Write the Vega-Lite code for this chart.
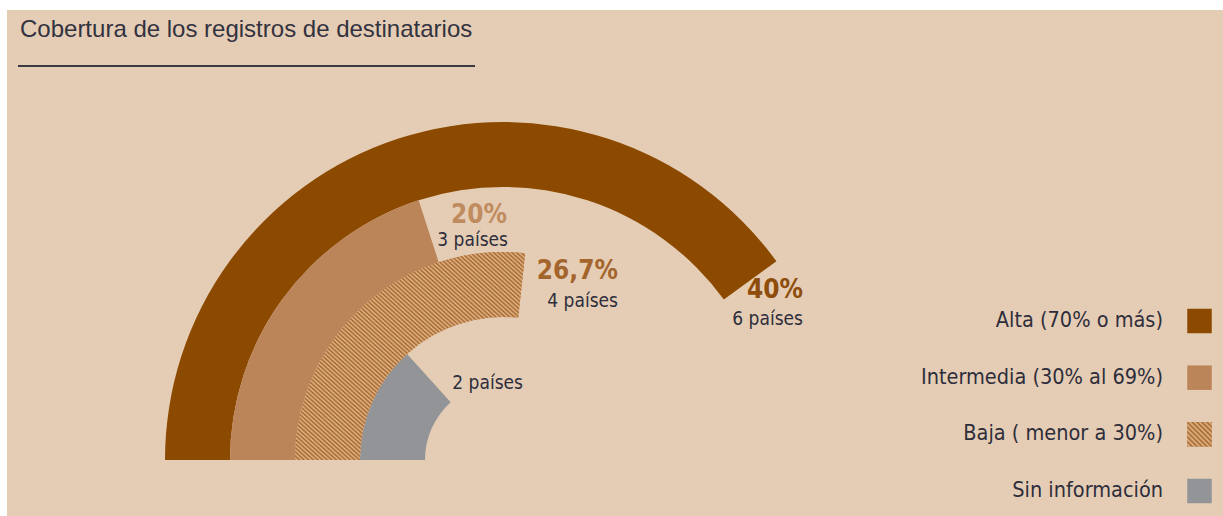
{
  "$schema": "https://vega.github.io/schema/vega-lite/v6.json",
  "width": 1223,
  "height": 516,
  "autosize": {"type": "fit", "contains": "padding"},
  "padding": {"left": 7, "top": 10, "right": 0, "bottom": 0},
  "background": "#FFFFFF",
  "config": {"view": {"fill": "#E5CDB5", "stroke": null}},
  "datasets": {
    "cobertura": [
      {"categoria": "Alta", "etiqueta": "Alta (70% o más)", "porcentaje": 40, "paises": 6, "pct_texto": "40%", "paises_texto": "6 países"},
      {"categoria": "Intermedia", "etiqueta": "Intermedia (30% al 69%)", "porcentaje": 20, "paises": 3, "pct_texto": "20%", "paises_texto": "3 países"},
      {"categoria": "Baja", "etiqueta": "Baja ( menor a 30%)", "porcentaje": 26.7, "paises": 4, "pct_texto": "26,7%", "paises_texto": "4 países"},
      {"categoria": "Sin información", "etiqueta": "Sin información", "porcentaje": 13.3, "paises": 2, "pct_texto": "", "paises_texto": "2 países"}
    ],
    "titulo": [{"texto": "Cobertura de los registros de destinatarios"}]
  },
  "resolve": {"scale": {"x": "independent", "y": "independent"}},
  "layer": [
    {
      "data": {"name": "cobertura"},
      "encoding": {
        "x": {"datum": 496, "type": "quantitative", "scale": {"domain": [0, 1216], "nice": false, "zero": false}, "axis": null},
        "y": {"datum": 450, "type": "quantitative", "scale": {"domain": [0, 506], "reverse": true, "nice": false, "zero": false}, "axis": null},
        "theta": {"field": "porcentaje", "type": "quantitative", "stack": null, "scale": {"domain": [0, 100], "range": [-1.5708, 4.7124]}},
        "radius": {"field": "categoria", "type": "nominal", "scale": {"type": "point", "domain": ["Alta", "Intermedia", "Baja", "Sin información"], "range": [338, 143], "padding": 0}}
      },
      "layer": [
        {
          "mark": {"type": "arc", "radius2Offset": -65},
          "encoding": {
            "theta2": {"datum": 0},
            "radius2": {"field": "categoria"},
            "color": {"field": "categoria", "type": "nominal", "legend": null, "scale": {"domain": ["Alta", "Intermedia", "Baja", "Sin información"], "range": ["#8C4A00", "#BC8459", "#C38E5B", "#939497"]}}
          }
        },
        {
          "transform": [{"filter": "datum.categoria === 'Baja'"}],
          "mark": {"type": "arc", "radius2Offset": -65, "fill": {"gradient": "linear", "x1": 0, "y1": 1, "x2": 1, "y2": 0, "stops": [
            {"offset": 0, "color": "#A5652B"}, {"offset": 0.005, "color": "#E1B78B"}, {"offset": 0.01, "color": "#A5652B"}, {"offset": 0.015, "color": "#E1B78B"}, {"offset": 0.02, "color": "#A5652B"}, {"offset": 0.025, "color": "#E1B78B"}, {"offset": 0.03, "color": "#A5652B"}, {"offset": 0.035, "color": "#E1B78B"}, {"offset": 0.04, "color": "#A5652B"}, {"offset": 0.045, "color": "#E1B78B"},
            {"offset": 0.05, "color": "#A5652B"}, {"offset": 0.055, "color": "#E1B78B"}, {"offset": 0.06, "color": "#A5652B"}, {"offset": 0.065, "color": "#E1B78B"}, {"offset": 0.07, "color": "#A5652B"}, {"offset": 0.075, "color": "#E1B78B"}, {"offset": 0.08, "color": "#A5652B"}, {"offset": 0.085, "color": "#E1B78B"}, {"offset": 0.09, "color": "#A5652B"}, {"offset": 0.095, "color": "#E1B78B"},
            {"offset": 0.1, "color": "#A5652B"}, {"offset": 0.105, "color": "#E1B78B"}, {"offset": 0.11, "color": "#A5652B"}, {"offset": 0.115, "color": "#E1B78B"}, {"offset": 0.12, "color": "#A5652B"}, {"offset": 0.125, "color": "#E1B78B"}, {"offset": 0.13, "color": "#A5652B"}, {"offset": 0.135, "color": "#E1B78B"}, {"offset": 0.14, "color": "#A5652B"}, {"offset": 0.145, "color": "#E1B78B"},
            {"offset": 0.15, "color": "#A5652B"}, {"offset": 0.155, "color": "#E1B78B"}, {"offset": 0.16, "color": "#A5652B"}, {"offset": 0.165, "color": "#E1B78B"}, {"offset": 0.17, "color": "#A5652B"}, {"offset": 0.175, "color": "#E1B78B"}, {"offset": 0.18, "color": "#A5652B"}, {"offset": 0.185, "color": "#E1B78B"}, {"offset": 0.19, "color": "#A5652B"}, {"offset": 0.195, "color": "#E1B78B"},
            {"offset": 0.2, "color": "#A5652B"}, {"offset": 0.205, "color": "#E1B78B"}, {"offset": 0.21, "color": "#A5652B"}, {"offset": 0.215, "color": "#E1B78B"}, {"offset": 0.22, "color": "#A5652B"}, {"offset": 0.225, "color": "#E1B78B"}, {"offset": 0.23, "color": "#A5652B"}, {"offset": 0.235, "color": "#E1B78B"}, {"offset": 0.24, "color": "#A5652B"}, {"offset": 0.245, "color": "#E1B78B"},
            {"offset": 0.25, "color": "#A5652B"}, {"offset": 0.255, "color": "#E1B78B"}, {"offset": 0.26, "color": "#A5652B"}, {"offset": 0.265, "color": "#E1B78B"}, {"offset": 0.27, "color": "#A5652B"}, {"offset": 0.275, "color": "#E1B78B"}, {"offset": 0.28, "color": "#A5652B"}, {"offset": 0.285, "color": "#E1B78B"}, {"offset": 0.29, "color": "#A5652B"}, {"offset": 0.295, "color": "#E1B78B"},
            {"offset": 0.3, "color": "#A5652B"}, {"offset": 0.305, "color": "#E1B78B"}, {"offset": 0.31, "color": "#A5652B"}, {"offset": 0.315, "color": "#E1B78B"}, {"offset": 0.32, "color": "#A5652B"}, {"offset": 0.325, "color": "#E1B78B"}, {"offset": 0.33, "color": "#A5652B"}, {"offset": 0.335, "color": "#E1B78B"}, {"offset": 0.34, "color": "#A5652B"}, {"offset": 0.345, "color": "#E1B78B"},
            {"offset": 0.35, "color": "#A5652B"}, {"offset": 0.355, "color": "#E1B78B"}, {"offset": 0.36, "color": "#A5652B"}, {"offset": 0.365, "color": "#E1B78B"}, {"offset": 0.37, "color": "#A5652B"}, {"offset": 0.375, "color": "#E1B78B"}, {"offset": 0.38, "color": "#A5652B"}, {"offset": 0.385, "color": "#E1B78B"}, {"offset": 0.39, "color": "#A5652B"}, {"offset": 0.395, "color": "#E1B78B"},
            {"offset": 0.4, "color": "#A5652B"}, {"offset": 0.405, "color": "#E1B78B"}, {"offset": 0.41, "color": "#A5652B"}, {"offset": 0.415, "color": "#E1B78B"}, {"offset": 0.42, "color": "#A5652B"}, {"offset": 0.425, "color": "#E1B78B"}, {"offset": 0.43, "color": "#A5652B"}, {"offset": 0.435, "color": "#E1B78B"}, {"offset": 0.44, "color": "#A5652B"}, {"offset": 0.445, "color": "#E1B78B"},
            {"offset": 0.45, "color": "#A5652B"}, {"offset": 0.455, "color": "#E1B78B"}, {"offset": 0.46, "color": "#A5652B"}, {"offset": 0.465, "color": "#E1B78B"}, {"offset": 0.47, "color": "#A5652B"}, {"offset": 0.475, "color": "#E1B78B"}, {"offset": 0.48, "color": "#A5652B"}, {"offset": 0.485, "color": "#E1B78B"}, {"offset": 0.49, "color": "#A5652B"}, {"offset": 0.495, "color": "#E1B78B"},
            {"offset": 0.5, "color": "#A5652B"}, {"offset": 0.505, "color": "#E1B78B"}, {"offset": 0.51, "color": "#A5652B"}, {"offset": 0.515, "color": "#E1B78B"}, {"offset": 0.52, "color": "#A5652B"}, {"offset": 0.525, "color": "#E1B78B"}, {"offset": 0.53, "color": "#A5652B"}, {"offset": 0.535, "color": "#E1B78B"}, {"offset": 0.54, "color": "#A5652B"}, {"offset": 0.545, "color": "#E1B78B"},
            {"offset": 0.55, "color": "#A5652B"}, {"offset": 0.555, "color": "#E1B78B"}, {"offset": 0.56, "color": "#A5652B"}, {"offset": 0.565, "color": "#E1B78B"}, {"offset": 0.57, "color": "#A5652B"}, {"offset": 0.575, "color": "#E1B78B"}, {"offset": 0.58, "color": "#A5652B"}, {"offset": 0.585, "color": "#E1B78B"}, {"offset": 0.59, "color": "#A5652B"}, {"offset": 0.595, "color": "#E1B78B"},
            {"offset": 0.6, "color": "#A5652B"}, {"offset": 0.605, "color": "#E1B78B"}, {"offset": 0.61, "color": "#A5652B"}, {"offset": 0.615, "color": "#E1B78B"}, {"offset": 0.62, "color": "#A5652B"}, {"offset": 0.625, "color": "#E1B78B"}, {"offset": 0.63, "color": "#A5652B"}, {"offset": 0.635, "color": "#E1B78B"}, {"offset": 0.64, "color": "#A5652B"}, {"offset": 0.645, "color": "#E1B78B"},
            {"offset": 0.65, "color": "#A5652B"}, {"offset": 0.655, "color": "#E1B78B"}, {"offset": 0.66, "color": "#A5652B"}, {"offset": 0.665, "color": "#E1B78B"}, {"offset": 0.67, "color": "#A5652B"}, {"offset": 0.675, "color": "#E1B78B"}, {"offset": 0.68, "color": "#A5652B"}, {"offset": 0.685, "color": "#E1B78B"}, {"offset": 0.69, "color": "#A5652B"}, {"offset": 0.695, "color": "#E1B78B"},
            {"offset": 0.7, "color": "#A5652B"}, {"offset": 0.705, "color": "#E1B78B"}, {"offset": 0.71, "color": "#A5652B"}, {"offset": 0.715, "color": "#E1B78B"}, {"offset": 0.72, "color": "#A5652B"}, {"offset": 0.725, "color": "#E1B78B"}, {"offset": 0.73, "color": "#A5652B"}, {"offset": 0.735, "color": "#E1B78B"}, {"offset": 0.74, "color": "#A5652B"}, {"offset": 0.745, "color": "#E1B78B"},
            {"offset": 0.75, "color": "#A5652B"}, {"offset": 0.755, "color": "#E1B78B"}, {"offset": 0.76, "color": "#A5652B"}, {"offset": 0.765, "color": "#E1B78B"}, {"offset": 0.77, "color": "#A5652B"}, {"offset": 0.775, "color": "#E1B78B"}, {"offset": 0.78, "color": "#A5652B"}, {"offset": 0.785, "color": "#E1B78B"}, {"offset": 0.79, "color": "#A5652B"}, {"offset": 0.795, "color": "#E1B78B"},
            {"offset": 0.8, "color": "#A5652B"}, {"offset": 0.805, "color": "#E1B78B"}, {"offset": 0.81, "color": "#A5652B"}, {"offset": 0.815, "color": "#E1B78B"}, {"offset": 0.82, "color": "#A5652B"}, {"offset": 0.825, "color": "#E1B78B"}, {"offset": 0.83, "color": "#A5652B"}, {"offset": 0.835, "color": "#E1B78B"}, {"offset": 0.84, "color": "#A5652B"}, {"offset": 0.845, "color": "#E1B78B"},
            {"offset": 0.85, "color": "#A5652B"}, {"offset": 0.855, "color": "#E1B78B"}, {"offset": 0.86, "color": "#A5652B"}, {"offset": 0.865, "color": "#E1B78B"}, {"offset": 0.87, "color": "#A5652B"}, {"offset": 0.875, "color": "#E1B78B"}, {"offset": 0.88, "color": "#A5652B"}, {"offset": 0.885, "color": "#E1B78B"}, {"offset": 0.89, "color": "#A5652B"}, {"offset": 0.895, "color": "#E1B78B"},
            {"offset": 0.9, "color": "#A5652B"}, {"offset": 0.905, "color": "#E1B78B"}, {"offset": 0.91, "color": "#A5652B"}, {"offset": 0.915, "color": "#E1B78B"}, {"offset": 0.92, "color": "#A5652B"}, {"offset": 0.925, "color": "#E1B78B"}, {"offset": 0.93, "color": "#A5652B"}, {"offset": 0.935, "color": "#E1B78B"}, {"offset": 0.94, "color": "#A5652B"}, {"offset": 0.945, "color": "#E1B78B"},
            {"offset": 0.95, "color": "#A5652B"}, {"offset": 0.955, "color": "#E1B78B"}, {"offset": 0.96, "color": "#A5652B"}, {"offset": 0.965, "color": "#E1B78B"}, {"offset": 0.97, "color": "#A5652B"}, {"offset": 0.975, "color": "#E1B78B"}, {"offset": 0.98, "color": "#A5652B"}, {"offset": 0.985, "color": "#E1B78B"}, {"offset": 0.99, "color": "#A5652B"}, {"offset": 0.995, "color": "#E1B78B"},
            {"offset": 1, "color": "#A5652B"}
          ]}},
          "encoding": {
            "theta2": {"datum": 0},
            "radius2": {"field": "categoria"}
          }
        },
        {
          "transform": [{"filter": "datum.categoria === 'Alta'"}],
          "mark": {"type": "text", "align": "right", "baseline": "middle", "font": "DejaVu Sans Condensed, sans-serif", "fontWeight": "bold", "fontSize": 26, "color": "#8E4D0C", "thetaOffset": 0.1128, "radiusOffset": 6.8},
          "encoding": {"text": {"field": "pct_texto"}}
        },
        {
          "transform": [{"filter": "datum.categoria === 'Alta'"}],
          "mark": {"type": "text", "align": "right", "baseline": "middle", "font": "DejaVu Sans Condensed, sans-serif", "fontSize": 19, "color": "#2E2D3B", "thetaOffset": 0.189, "radiusOffset": -6.5},
          "encoding": {"text": {"field": "paises_texto"}}
        },
        {
          "transform": [{"filter": "datum.categoria === 'Intermedia'"}],
          "mark": {"type": "text", "align": "right", "baseline": "middle", "font": "DejaVu Sans Condensed, sans-serif", "fontWeight": "bold", "fontSize": 26, "color": "#C08B5F", "thetaOffset": 0.3305, "radiusOffset": -28},
          "encoding": {"text": {"field": "pct_texto"}}
        },
        {
          "transform": [{"filter": "datum.categoria === 'Intermedia'"}],
          "mark": {"type": "text", "align": "right", "baseline": "middle", "font": "DejaVu Sans Condensed, sans-serif", "fontSize": 19, "color": "#2E2D3B", "thetaOffset": 0.337, "radiusOffset": -53.4},
          "encoding": {"text": {"field": "paises_texto"}}
        },
        {
          "transform": [{"filter": "datum.categoria === 'Baja'"}],
          "mark": {"type": "text", "align": "right", "baseline": "middle", "font": "DejaVu Sans Condensed, sans-serif", "fontWeight": "bold", "fontSize": 26, "color": "#A4652C", "thetaOffset": 0.4398, "radiusOffset": 13.2},
          "encoding": {"text": {"field": "pct_texto"}}
        },
        {
          "transform": [{"filter": "datum.categoria === 'Baja'"}],
          "mark": {"type": "text", "align": "right", "baseline": "middle", "font": "DejaVu Sans Condensed, sans-serif", "fontSize": 19, "color": "#2E2D3B", "thetaOffset": 0.5194, "radiusOffset": -11.8},
          "encoding": {"text": {"field": "paises_texto"}}
        },
        {
          "transform": [{"filter": "datum.categoria === 'Sin información'"}],
          "mark": {"type": "text", "align": "right", "baseline": "middle", "font": "DejaVu Sans Condensed, sans-serif", "fontSize": 19, "color": "#2E2D3B", "thetaOffset": 0.9892, "radiusOffset": -63.4},
          "encoding": {"text": {"field": "paises_texto"}}
        }
      ]
    },
    {
      "data": {"name": "titulo"},
      "layer": [
        {
          "mark": {"type": "text", "align": "left", "baseline": "alphabetic", "font": "Liberation Sans, sans-serif", "fontSize": 24, "color": "#33323F"},
          "encoding": {
            "x": {"datum": 13, "type": "quantitative", "scale": {"domain": [0, 1216], "nice": false, "zero": false}, "axis": null},
            "y": {"datum": 27, "type": "quantitative", "scale": {"domain": [0, 506], "reverse": true, "nice": false, "zero": false}, "axis": null},
            "text": {"field": "texto"}
          }
        },
        {
          "mark": {"type": "rule", "color": "#3B3A40", "strokeWidth": 2},
          "encoding": {
            "x": {"datum": 11, "type": "quantitative", "scale": {"domain": [0, 1216], "nice": false, "zero": false}, "axis": null},
            "x2": {"datum": 468},
            "y": {"datum": 56, "type": "quantitative", "scale": {"domain": [0, 506], "reverse": true, "nice": false, "zero": false}, "axis": null}
          }
        }
      ]
    },
    {
      "data": {"name": "cobertura"},
      "encoding": {
        "y": {"field": "categoria", "type": "nominal", "axis": null, "scale": {"type": "point", "domain": ["Alta", "Intermedia", "Baja", "Sin información"], "range": [311, 481], "padding": 0}}
      },
      "layer": [
        {
          "mark": {"type": "text", "align": "right", "baseline": "middle", "font": "DejaVu Sans Condensed, sans-serif", "fontSize": 21.5, "color": "#2E2D3B"},
          "encoding": {
            "x": {"datum": 1156, "type": "quantitative", "scale": {"domain": [0, 1216], "nice": false, "zero": false}, "axis": null},
            "text": {"field": "etiqueta"}
          }
        },
        {
          "mark": {"type": "square", "size": 600, "opacity": 1},
          "encoding": {
            "x": {"datum": 1192.5, "type": "quantitative", "scale": {"domain": [0, 1216], "nice": false, "zero": false}, "axis": null},
            "color": {"field": "categoria", "type": "nominal", "legend": null, "scale": {"domain": ["Alta", "Intermedia", "Baja", "Sin información"], "range": ["#8C4A00", "#BC8459", "#C38E5B", "#939497"]}}
          }
        },
        {
          "transform": [{"filter": "datum.categoria === 'Baja'"}],
          "mark": {"type": "square", "size": 600, "opacity": 1, "fill": {"gradient": "linear", "x1": 0, "y1": 1, "x2": 1, "y2": 0, "stops": [
            {"offset": 0, "color": "#A5652B"}, {"offset": 0.05, "color": "#E1B78B"}, {"offset": 0.1, "color": "#A5652B"}, {"offset": 0.15, "color": "#E1B78B"}, {"offset": 0.2, "color": "#A5652B"}, {"offset": 0.25, "color": "#E1B78B"}, {"offset": 0.3, "color": "#A5652B"}, {"offset": 0.35, "color": "#E1B78B"}, {"offset": 0.4, "color": "#A5652B"}, {"offset": 0.45, "color": "#E1B78B"},
            {"offset": 0.5, "color": "#A5652B"}, {"offset": 0.55, "color": "#E1B78B"}, {"offset": 0.6, "color": "#A5652B"}, {"offset": 0.65, "color": "#E1B78B"}, {"offset": 0.7, "color": "#A5652B"}, {"offset": 0.75, "color": "#E1B78B"}, {"offset": 0.8, "color": "#A5652B"}, {"offset": 0.85, "color": "#E1B78B"}, {"offset": 0.9, "color": "#A5652B"}, {"offset": 0.95, "color": "#E1B78B"},
            {"offset": 1, "color": "#A5652B"}
          ]}},
          "encoding": {
            "x": {"datum": 1192.5, "type": "quantitative", "scale": {"domain": [0, 1216], "nice": false, "zero": false}, "axis": null}
          }
        }
      ]
    }
  ]
}
